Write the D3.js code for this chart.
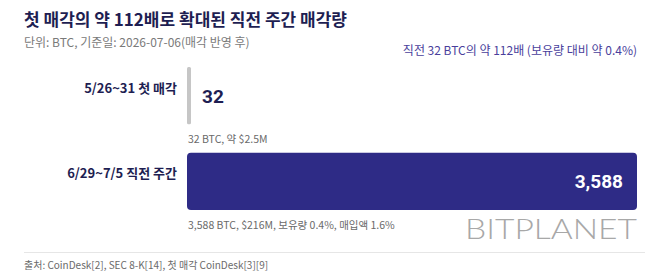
<!DOCTYPE html>
<html>
<head>
<meta charset="utf-8">
<script src="https://cdn.jsdelivr.net/npm/d3@7"></script>
<style>
  body { margin: 0; background: #fff; }
  svg { display: block; font-family: "Noto Sans CJK KR", "Noto Sans", sans-serif; }
</style>
</head>
<body>
<svg width="658" height="274"></svg>
<script>
// data
const categories = ['5/26~31 첫 매각', '6/29~7/5 직전 주간'];
const values = [32, 3588];
const valueLabels = ['32', '3,588'];
const notes = ['32 BTC, 약 $2.5M', '3,588 BTC, $216M, 보유량 0.4%, 매입액 1.6%'];

const title = '첫 매각의 약 112배로 확대된 직전 주간 매각량';
const subtitle = '단위: BTC, 기준일: 2026-07-06(매각 반영 후)';
const callout = '직전 32 BTC의 약 112배 (보유량 대비 약 0.4%)';
const source = '출처: CoinDesk[2], SEC 8-K[14], 첫 매각 CoinDesk[3][9]';

const svg = d3.select('svg');

const xScale = d3.scaleLinear()
    .domain([0, d3.max(values)])
    .range([187, 637]);

const yScale = d3.scaleBand()
    .domain(categories)
    .range([67, 210])
    .paddingInner(0.33);

// title block
svg.append('text')
    .attr('x', 24).attr('y', 26)
    .attr('font-size', 17).attr('font-weight', 700)
    .attr('fill', '#1e1e52')
    .text(title);

svg.append('text')
    .attr('x', 24).attr('y', 47)
    .attr('font-size', 12)
    .attr('fill', '#7a7a7a')
    .text(subtitle);

svg.append('text')
    .attr('x', 637).attr('y', 55)
    .attr('text-anchor', 'end')
    .attr('font-size', 12)
    .attr('fill', '#4a3f9c')
    .text(callout);

// watermark
svg.append('text')
    .attr('x', 465).attr('y', 239)
    .attr('font-family', 'Lato, sans-serif')
    .attr('font-weight', 300)
    .attr('font-size', 27)
    .attr('textLength', 172)
    .attr('lengthAdjust', 'spacingAndGlyphs')
    .attr('fill', '#a8a8a8')
    .text('BITPLANET');

// bars
const rows = categories.map((c, i) => ({cat: c, val: values[i], label: valueLabels[i], note: notes[i], i: i}));

svg.selectAll('rect.bar')
    .data(rows)
    .enter()
    .append('rect')
    .attr('class', 'bar')
    .attr('x', xScale(0))
    .attr('y', d => yScale(d.cat))
    .attr('width', d => xScale(d.val) - xScale(0))
    .attr('height', yScale.bandwidth())
    .attr('rx', d => d.i === 0 ? 1.5 : 4)
    .attr('fill', d => d.i === 0 ? '#c6c6c6' : '#2e2b86');

// category labels
svg.selectAll('text.cat')
    .data(rows)
    .enter()
    .append('text')
    .attr('class', 'cat')
    .attr('x', 177)
    .attr('y', d => yScale(d.cat) + yScale.bandwidth() / 2 - 3)
    .attr('text-anchor', 'end')
    .attr('font-size', 13).attr('font-weight', 700)
    .attr('fill', '#1e1e52')
    .text(d => d.cat);

// value labels
svg.selectAll('text.val')
    .data(rows)
    .enter()
    .append('text')
    .attr('class', 'val')
    .attr('x', d => d.i === 0 ? xScale(d.val) + 11 : xScale(d.val) - 14)
    .attr('y', d => yScale(d.cat) + yScale.bandwidth() / 2 + 7)
    .attr('text-anchor', d => d.i === 0 ? 'start' : 'end')
    .attr('font-family', 'Roboto, sans-serif')
    .attr('font-size', 19).attr('font-weight', 700)
    .attr('fill', d => d.i === 0 ? '#1e1e52' : '#ffffff')
    .text(d => d.label);

// notes under bars
svg.selectAll('text.note')
    .data(rows)
    .enter()
    .append('text')
    .attr('class', 'note')
    .attr('x', xScale(0) + 1)
    .attr('y', d => yScale(d.cat) + yScale.bandwidth() + 19)
    .attr('font-size', 10.5)
    .attr('fill', '#6a6a6a')
    .text(d => d.note);

// footer
svg.append('line')
    .attr('x1', 24).attr('x2', 645)
    .attr('y1', 252.5).attr('y2', 252.5)
    .attr('stroke', '#e6e6e6');

svg.append('text')
    .attr('x', 24).attr('y', 269)
    .attr('font-size', 10)
    .attr('fill', '#6a6a6a')
    .text(source);
</script>
</body>
</html>
